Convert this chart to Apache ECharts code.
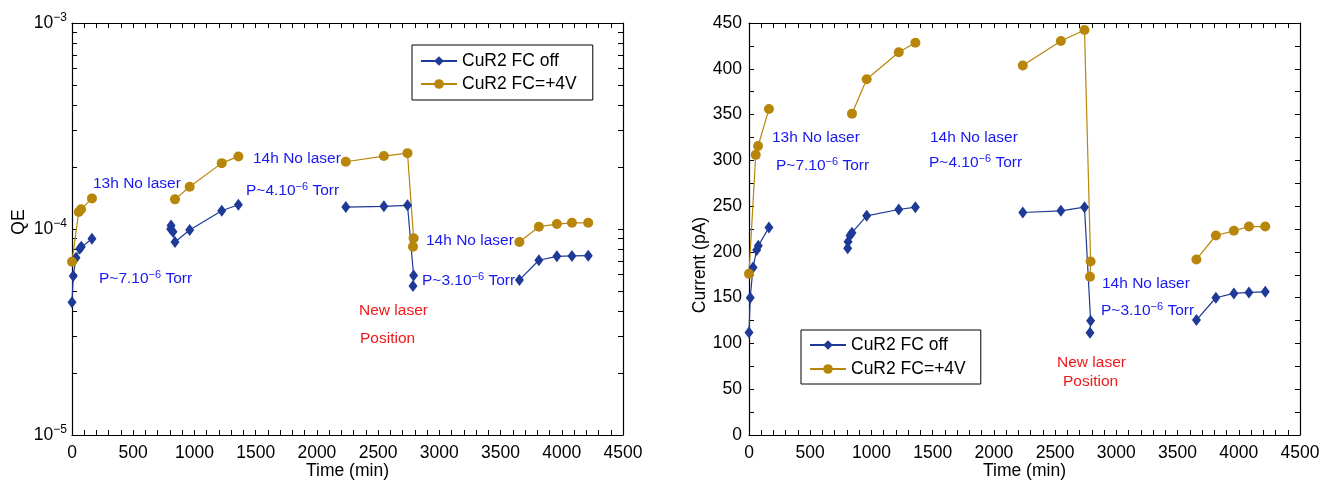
<!DOCTYPE html>
<html>
<head>
<meta charset="utf-8">
<script src="https://cdn.jsdelivr.net/npm/echarts@6/dist/echarts.min.js"></script>
<style>
  html, body { margin: 0; padding: 0; background: #fff; }
  #chart { width: 1333px; height: 482px; }
</style>
</head>
<body>
<div id="chart"></div>
<script>
// Time (min) of each measurement, grouped in runs; runs are drawn as separate line pieces
const offTime = [
  [0, 10, 33, 63, 76, 163],
  [806, 809, 825, 841, 961, 1223, 1359],
  [2236, 2547, 2740, 2790, 2785],
  [3654, 3813, 3960, 4083, 4216]
];
const onTime = [
  [0, 55, 74, 163],
  [841, 961, 1223, 1359],
  [2236, 2547, 2740, 2790, 2785],
  [3654, 3813, 3960, 4083, 4216]
];

// Quantum efficiency, FC off
const offQE = [
  [4.41e-5, 5.92e-5, 7.26e-5, 8.03e-5, 8.21e-5, 8.97e-5],
  [1.00e-4, 1.04e-4, 9.70e-5, 8.65e-5, 9.89e-5, 1.227e-4, 1.312e-4],
  [1.278e-4, 1.288e-4, 1.303e-4, 5.94e-5, 5.29e-5],
  [5.66e-5, 7.05e-5, 7.37e-5, 7.40e-5, 7.42e-5]
];
// Quantum efficiency, FC = +4 V
const onQE = [
  [6.94e-5, 1.209e-4, 1.246e-4, 1.408e-4],
  [1.393e-4, 1.603e-4, 2.088e-4, 2.251e-4],
  [2.12e-4, 2.26e-4, 2.335e-4, 9.01e-5, 8.21e-5],
  [8.65e-5, 1.026e-4, 1.057e-4, 1.072e-4, 1.072e-4]
];

// Photocurrent (pA), FC off
const offCurrent = [
  [112, 150, 183, 202, 206.6, 226.7],
  [204, 211, 218, 221, 239.4, 246.3, 248.8],
  [243, 244.8, 248.8, 124.8, 111.7],
  [125.5, 149.9, 154.6, 155.7, 156.4]
];
// Photocurrent (pA), FC = +4 V
const onCurrent = [
  [176, 306, 315.7, 356],
  [351, 388.5, 418, 428.5],
  [403.5, 430.4, 442.4, 189.5, 172.8],
  [191.7, 217.9, 223, 227.7, 227.7]
];

const seriesNames = ['CuR2 FC off', 'CuR2 FC=+4V'];
const xTicks = [0, 500, 1000, 1500, 2000, 2500, 3000, 3500, 4000, 4500];
const qeDecades = [-5, -4, -3];
const currentTicks = [0, 50, 100, 150, 200, 250, 300, 350, 400, 450];

const FONT = 'Liberation Sans, Arial, Helvetica, sans-serif';
const BLUE = '#1E3A96';
const GOLD = '#B8860B';
const NOTE_BLUE = '#1818F0';
const NOTE_RED = '#F01818';

// Flatten runs into [x, y] pairs with a break between runs
function pieces(times, values) {
  const out = [];
  times.forEach((run, r) => {
    if (r > 0) out.push([run[0], '-']);
    run.forEach((t, i) => out.push([t, values[r][i]]));
  });
  return out;
}

// Box tick positions: subdivide each labelled step into n parts
function subdivide(ticks, n) {
  const out = [];
  for (let i = 0; i < ticks.length - 1; i++) {
    for (let k = 0; k < n; k++) out.push(ticks[i] + (ticks[i + 1] - ticks[i]) * k / n);
  }
  out.push(ticks[ticks.length - 1]);
  return out;
}
const xTickPositions = subdivide(xTicks, 5);
const currentTickPositions = subdivide(currentTicks, 2);

// Log-axis tick positions (in decades): every k·10^n
const logTickPositions = [];
for (let e = qeDecades[0]; e < qeDecades[qeDecades.length - 1]; e++) {
  for (let k = 1; k < 10; k++) logTickPositions.push(e + Math.log10(k));
}
logTickPositions.push(qeDecades[qeDecades.length - 1]);

const tickLabel = { fontFamily: FONT, fontSize: 17.5, color: '#000', formatter: v => String(v) };
const axisLine = { show: true, onZero: false, lineStyle: { color: '#000', width: 1.2 } };
const tick = { show: true, inside: true, length: 5, lineStyle: { color: '#000', width: 1 } };
const nameStyle = { fontFamily: FONT, fontSize: 17.5, color: '#000' };

function timeAxis(gridIndex, top) {
  return {
    type: 'value', gridIndex, position: top ? 'top' : 'bottom',
    min: xTicks[0], max: xTicks[xTicks.length - 1], interval: 500,
    name: top ? '' : 'Time (min)', nameLocation: 'middle', nameGap: 27, nameMoveOverlap: false,
    nameTextStyle: nameStyle,
    axisLine, axisTick: { ...tick, customValues: xTickPositions },
    axisLabel: { show: !top, margin: 9, ...tickLabel },
    splitLine: { show: false }
  };
}

const option = {
  backgroundColor: '#fff',
  animation: false,
  grid: [
    { left: 72, right: 710, top: 23, bottom: 47, containLabel: false, outerBoundsMode: 'none' },
    { left: 749, right: 33, top: 23, bottom: 47, containLabel: false, outerBoundsMode: 'none' }
  ],
  xAxis: [timeAxis(0, false), timeAxis(0, true), timeAxis(1, false), timeAxis(1, true)],
  yAxis: [
    {
      type: 'log', logBase: 10, gridIndex: 0, position: 'left',
      min: Math.pow(10, qeDecades[0]), max: Math.pow(10, qeDecades[2]),
      name: 'QE', nameLocation: 'middle', nameGap: 44, nameMoveOverlap: false,
      nameTextStyle: { ...nameStyle, padding: [0, 0, 0, 14] },
      axisLine, axisTick: { show: false },
      axisLabel: {
        margin: 5, fontFamily: FONT, fontSize: 17.5, color: '#000',
        formatter: v => '10{sup|−' + Math.abs(Math.round(Math.log10(v))) + '}',
        rich: { sup: { fontFamily: FONT, fontSize: 12, color: '#000', verticalAlign: 'top', padding: [0, 0, 10, 0] } }
      },
      splitLine: { show: false }
    },
    {
      type: 'value', gridIndex: 0, position: 'left',
      min: qeDecades[0], max: qeDecades[2],
      axisLine: { show: false, onZero: false }, axisLabel: { show: false }, splitLine: { show: false },
      axisTick: { ...tick, customValues: logTickPositions }
    },
    {
      type: 'value', gridIndex: 0, position: 'right',
      min: qeDecades[0], max: qeDecades[2],
      axisLine, axisLabel: { show: false }, splitLine: { show: false },
      axisTick: { ...tick, customValues: logTickPositions }
    },
    {
      type: 'value', gridIndex: 1, position: 'left',
      min: currentTicks[0], max: currentTicks[currentTicks.length - 1], interval: 50,
      name: 'Current (pA)', nameLocation: 'middle', nameGap: 40, nameMoveOverlap: false,
      nameTextStyle: { ...nameStyle, padding: [0, 72, 0, 0] },
      axisLine, axisTick: { ...tick, customValues: currentTickPositions },
      axisLabel: { margin: 7, ...tickLabel },
      splitLine: { show: false }
    },
    {
      type: 'value', gridIndex: 1, position: 'right',
      min: currentTicks[0], max: currentTicks[currentTicks.length - 1], interval: 50,
      axisLine, axisTick: { ...tick, customValues: currentTickPositions },
      axisLabel: { show: false },
      splitLine: { show: false }
    }
  ],
  legend: [
    {
      data: seriesNames, orient: 'vertical', left: 412, top: 45,
      backgroundColor: '#fff', borderColor: '#000', borderWidth: 1, borderRadius: 0,
      padding: [7, 16, 7, 8], itemWidth: 36, itemHeight: 12, itemGap: 5, selectedMode: false,
      textStyle: { fontFamily: FONT, fontSize: 17.5, color: '#000', lineHeight: 12 }
    },
    {
      data: seriesNames, orient: 'vertical', left: 801, top: 330,
      backgroundColor: '#fff', borderColor: '#000', borderWidth: 1, borderRadius: 0,
      padding: [6, 15, 6, 8], itemWidth: 36, itemHeight: 12, itemGap: 6, selectedMode: false,
      textStyle: { fontFamily: FONT, fontSize: 17.5, color: '#000', lineHeight: 12 }
    }
  ],
  series: [
    {
      name: seriesNames[0], type: 'line', xAxisIndex: 0, yAxisIndex: 0,
      data: pieces(offTime, offQE),
      symbol: 'diamond', symbolSize: [9, 12], showAllSymbol: true,
      lineStyle: { color: BLUE, width: 1.2 }, itemStyle: { color: BLUE }
    },
    {
      name: seriesNames[1], type: 'line', xAxisIndex: 0, yAxisIndex: 0,
      data: pieces(onTime, onQE),
      symbol: 'circle', symbolSize: 10, showAllSymbol: true,
      lineStyle: { color: GOLD, width: 1.2 }, itemStyle: { color: GOLD }
    },
    {
      name: seriesNames[0], type: 'line', xAxisIndex: 2, yAxisIndex: 3,
      data: pieces(offTime, offCurrent),
      symbol: 'diamond', symbolSize: [9, 12], showAllSymbol: true,
      lineStyle: { color: BLUE, width: 1.2 }, itemStyle: { color: BLUE }
    },
    {
      name: seriesNames[1], type: 'line', xAxisIndex: 2, yAxisIndex: 3,
      data: pieces(onTime, onCurrent),
      symbol: 'circle', symbolSize: 10, showAllSymbol: true,
      lineStyle: { color: GOLD, width: 1.2 }, itemStyle: { color: GOLD }
    }
  ]
};

// Annotations: pump-down periods, pressure, and the laser move
const supRich = {
  sup: { fontFamily: FONT, fontSize: 11, fill: NOTE_BLUE, verticalAlign: 'top', padding: [0, 0, 9, 0] }
};
function note(x, y, text, color) {
  return {
    type: 'text', x, y, z: 100,
    style: {
      text, fill: color || NOTE_BLUE, fontFamily: FONT, fontSize: 15.5,
      align: 'left', verticalAlign: 'middle', rich: supRich
    }
  };
}
option.graphic = [
  note(93, 184, '13h No laser'),
  note(99, 279, 'P~7.10{sup|−6} Torr'),
  note(253, 159, '14h No laser'),
  note(246, 191, 'P~4.10{sup|−6} Torr'),
  note(426, 241, '14h No laser'),
  note(422, 281, 'P~3.10{sup|−6} Torr'),
  note(359, 311, 'New laser', NOTE_RED),
  note(360, 339, 'Position', NOTE_RED),

  note(772, 138, '13h No laser'),
  note(776, 166, 'P~7.10{sup|−6} Torr'),
  note(930, 138, '14h No laser'),
  note(929, 163, 'P~4.10{sup|−6} Torr'),
  note(1102, 284, '14h No laser'),
  note(1101, 311, 'P~3.10{sup|−6} Torr'),
  note(1057, 363, 'New laser', NOTE_RED),
  note(1063, 382, 'Position', NOTE_RED)
];

const chart = echarts.init(document.getElementById('chart'), null, { renderer: 'canvas' });
chart.setOption(option);
</script>
</body>
</html>
